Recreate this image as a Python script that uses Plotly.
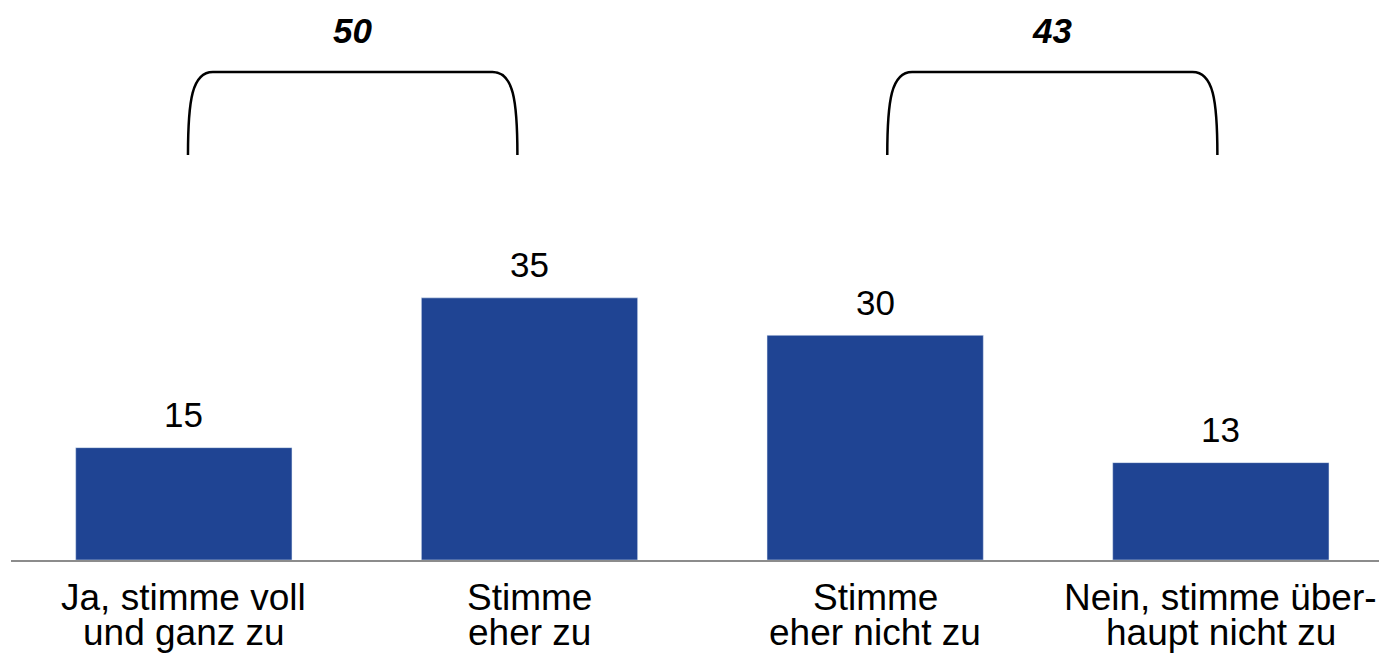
import plotly.graph_objects as go

# ---- data ----
categories = ["Ja, stimme voll<br>und ganz zu", "Stimme<br>eher zu",
              "Stimme<br>eher nicht zu", "Nein, stimme über-<br>haupt nicht zu"]
values = [15, 35, 30, 13]
groups = [(0, 1), (2, 3)]  # bracket groups (category index ranges)

BAR_COLOR = "#1F4493"
FONT = "Liberation Sans, Arial, sans-serif"

W, H = 1379, 653
ML, MB = 11, 93
PX_PER_X = 345.67
PX_PER_Y = 7.49
plot_w = W - ML
plot_h = H - MB
x_range = [-0.5, -0.5 + plot_w / PX_PER_X]
y_range = [0, plot_h / PX_PER_Y]

xs = list(range(len(categories)))

fig = go.Figure()
fig.add_trace(go.Bar(x=xs, y=values, marker_color=BAR_COLOR, width=0.6257,
                     hoverinfo="skip"))

annotations = []
# value labels
for x, v in zip(xs, values):
    annotations.append(dict(x=x, y=v, xref="x", yref="y", text=str(v),
                            showarrow=False, yanchor="middle", yshift=33,
                            font=dict(family=FONT, size=35, color="#000")))
# category labels (two lines each, tight spacing)
for x, c in zip(xs, categories):
    lines = c.split("<br>")
    for i, ln in enumerate(lines):
        annotations.append(dict(x=x, y=0, xref="x", yref="paper", text=ln,
                                showarrow=False, yanchor="middle",
                                yshift=-(37 + 35 * i),
                                font=dict(family=FONT, size=37, color="#000")))

# brackets
def py(px):  # pixel row -> y data
    return (plot_h - px) / PX_PER_Y

yb, yt, yc = py(155), py(72), py(100)
offs = [(0.012, -0.035), (0.035, -0.01)]
dx, dx1 = 0.072, 0.012
shapes = []
for (a, b), (oa, ob) in zip(groups, offs):
    xl, xr = a + oa, b + ob
    path = (f"M {xl},{yb} C {xl},{yc} {xl+dx1},{yt} {xl+dx},{yt} "
            f"L {xr-dx},{yt} C {xr-dx1},{yt} {xr},{yc} {xr},{yb}")
    shapes.append(dict(type="path", path=path, xref="x", yref="y",
                       line=dict(color="#000", width=2.5)))
    total = sum(values[a:b + 1])
    annotations.append(dict(x=(xl + xr) / 2, y=py(30), xref="x", yref="y",
                            text=f"<b><i>{total}</i></b>", showarrow=False,
                            yanchor="middle",
                            font=dict(family=FONT, size=35, color="#000")))

fig.update_layout(
    width=W, height=H,
    margin=dict(l=ML, r=0, t=0, b=MB),
    paper_bgcolor="white", plot_bgcolor="white",
    showlegend=False,
    xaxis=dict(range=x_range, showticklabels=False, showgrid=False,
               zeroline=False, showline=True, linecolor="#8C8C8C",
               linewidth=2, ticks=""),
    yaxis=dict(range=y_range, visible=False, showgrid=False, zeroline=False),
    annotations=annotations,
    shapes=shapes,
)

fig.write_html("out.html")
